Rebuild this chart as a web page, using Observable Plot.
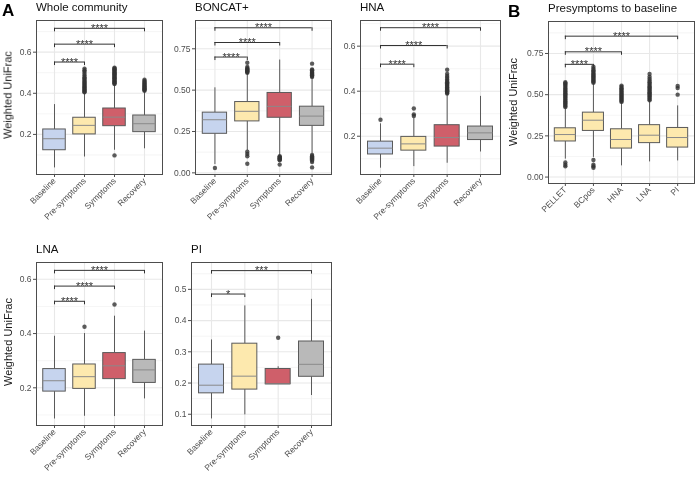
<!DOCTYPE html>
<html><head><meta charset="utf-8">
<script src="https://cdn.jsdelivr.net/npm/d3@7"></script>
<script src="https://cdn.jsdelivr.net/npm/@observablehq/plot@0.6"></script>
<style>
body{margin:0;background:#fff;}
#fig{position:relative;width:696px;height:478px;overflow:hidden;font-family:"Liberation Sans",Arial,Helvetica,sans-serif;background:#fff;-webkit-font-smoothing:antialiased;}
.panel{position:absolute;will-change:transform;}
.ptitle{position:absolute;font-size:11.5px;line-height:1;color:#111;white-space:nowrap;}
.tag{position:absolute;font-size:17px;line-height:1;font-weight:bold;color:#000;}
.ylab{position:absolute;font-size:11px;line-height:1;color:#1a1a1a;white-space:nowrap;transform:translate(-50%,-50%) rotate(-90deg);}
</style></head><body><div id="fig"></div>
<script>
// ---------- categories ----------
const timepoints = ["Baseline", "Pre-symptoms", "Symptoms", "Recovery"];
const cellGroups = ["PELLET", "BCpos", "HNA", "LNA", "PI"];
const timepointColors = ["#c6d4ee", "#fde9ae", "#cf5f6a", "#b9b9b9"];
const presymColors = ["#fde9ae", "#fde9ae", "#fde9ae", "#fde9ae", "#fde9ae"];
const panelTitles = ["Whole community", "BONCAT+", "HNA", "Presymptoms to baseline", "LNA", "PI"];
const panelTags = ["A", "B"];
const yTitle = "Weighted UniFrac";

// ---------- box statistics: [lower whisker, Q1, median, Q3, upper whisker] ----------
const wholeStats = [
  [0.037, 0.123, 0.179, 0.224, 0.345],
  [0.090, 0.200, 0.244, 0.281, 0.400],
  [0.123, 0.240, 0.284, 0.326, 0.440],
  [0.130, 0.211, 0.252, 0.292, 0.405]
];
const wholeOutliers = [
  [],
  [0.405,0.409,0.413,0.418,0.422,0.427,0.431,0.436,0.44,0.445,0.45,0.455,0.46,0.466,0.472,0.478,0.486,0.495,0.505,0.512,0.52],
  [0.098,0.445,0.449,0.453,0.457,0.461,0.465,0.469,0.473,0.477,0.481,0.485,0.489,0.493,0.497,0.501,0.505,0.509,0.513,0.517,0.521,0.525],
  [0.412,0.416,0.42,0.424,0.428,0.433,0.437,0.441,0.446,0.45,0.455,0.46,0.466]
];
const wholeBrackets = [[0, 1, 0.552, "****"], [0, 2, 0.639, "****"], [0, 3, 0.716, "****"]];

const boncatStats = [
  [0.050, 0.236, 0.321, 0.364, 0.514],
  [0.135, 0.311, 0.372, 0.428, 0.600],
  [0.105, 0.333, 0.402, 0.483, 0.682],
  [0.115, 0.284, 0.343, 0.400, 0.575]
];
const boncatOutliers = [
  [0.029],
  [0.605,0.61,0.614,0.618,0.622,0.627,0.632,0.64,0.666,0.128,0.114,0.1,0.055],
  [0.1,0.096,0.092,0.088,0.084,0.08,0.076,0.05],
  [0.58,0.585,0.59,0.595,0.6,0.605,0.61,0.615,0.62,0.625,0.66,0.108,0.1,0.094,0.088,0.082,0.075,0.065,0.033]
];
const boncatBrackets = [[0, 1, 0.700, "****"], [0, 2, 0.788, "****"], [0, 3, 0.877, "****"]];

const hnaStats = [
  [0.058, 0.119, 0.147, 0.176, 0.255],
  [0.065, 0.136, 0.166, 0.197, 0.280],
  [0.080, 0.154, 0.194, 0.249, 0.385],
  [0.130, 0.183, 0.215, 0.243, 0.377]
];
const hnaOutliers = [
  [0.273],
  [0.29, 0.297, 0.323],
  [0.39,0.393,0.397,0.4,0.404,0.408,0.412,0.416,0.42,0.425,0.43,0.435,0.44,0.445,0.452,0.46,0.468,0.477,0.495],
  []
];
const hnaBrackets = [[0, 1, 0.520, "****"], [0, 2, 0.603, "****"], [0, 3, 0.682, "****"]];

const presymStats = [
  [0.109, 0.216, 0.258, 0.296, 0.420],
  [0.119, 0.280, 0.345, 0.391, 0.567],
  [0.068, 0.173, 0.228, 0.290, 0.452],
  [0.092, 0.206, 0.254, 0.315, 0.462],
  [0.098, 0.179, 0.240, 0.298, 0.432]
];
const presymOutliers = [
  [0.425,0.432,0.439,0.446,0.453,0.46,0.467,0.474,0.481,0.488,0.495,0.502,0.509,0.516,0.523,0.53,0.538,0.546,0.554,0.562,0.569,0.575,0.088,0.075,0.065],
  [0.572,0.578,0.584,0.59,0.596,0.602,0.608,0.614,0.62,0.626,0.632,0.64,0.648,0.657,0.67,0.104,0.075,0.065,0.056],
  [0.456,0.462,0.468,0.474,0.48,0.486,0.492,0.498,0.504,0.51,0.517,0.524,0.531,0.539,0.547,0.555],
  [0.466,0.473,0.48,0.487,0.494,0.501,0.508,0.515,0.522,0.529,0.536,0.543,0.55,0.558,0.566,0.575,0.585,0.596,0.608,0.625],
  [0.5, 0.54, 0.553]
];
const presymBrackets = [[0, 1, 0.684, "****"], [0, 2, 0.760, "****"], [0, 4, 0.855, "****"]];

const lnaStats = [
  [0.085, 0.186, 0.226, 0.269, 0.390],
  [0.095, 0.196, 0.241, 0.286, 0.400],
  [0.094, 0.232, 0.281, 0.328, 0.464],
  [0.159, 0.218, 0.266, 0.303, 0.409]
];
const lnaOutliers = [[], [0.425], [0.507], []];
const lnaBrackets = [[0, 1, 0.519, "****"], [0, 2, 0.575, "****"], [0, 3, 0.633, "****"]];

const piStats = [
  [0.085, 0.167, 0.193, 0.259, 0.338],
  [0.098, 0.179, 0.222, 0.326, 0.447],
  [0.196, 0.196, 0.197, 0.245, 0.252],
  [0.160, 0.220, 0.260, 0.333, 0.468]
];
const piOutliers = [[], [], [0.345], []];
const piBrackets = [[0, 1, 0.485, "*"], [0, 3, 0.560, "***"]];

// ---------- y-axis ticks ----------
const ticksA = [0.2, 0.4, 0.6];
const minorA = [0.1, 0.3, 0.5, 0.7];
const ticksB = [0, 0.25, 0.5, 0.75];
const minorB = [0.125, 0.375, 0.625, 0.875];
const ticksPI = [0.1, 0.2, 0.3, 0.4, 0.5];
const minorPI = [0.15, 0.25, 0.35, 0.45, 0.55];

// ---------- layout ----------
const panels = [
  {title: panelTitles[0], cats: timepoints, colors: timepointColors, stats: wholeStats, outliers: wholeOutliers, brackets: wholeBrackets,
   left: 0, top: 0, w: 175, h: 240, ml: 36, mr: 13, mt: 20, mb: 66, domain: [0.005, 0.754], major: ticksA, minor: minorA, fmt: ".1f", ylab: [7.5, 95]},
  {title: panelTitles[1], cats: timepoints, colors: timepointColors, stats: boncatStats, outliers: boncatOutliers, brackets: boncatBrackets,
   left: 165, top: 0, w: 175, h: 240, ml: 30, mr: 9, mt: 20, mb: 66, domain: [-0.01, 0.921], major: ticksB, minor: minorB, fmt: ".2f"},
  {title: panelTitles[2], cats: timepoints, colors: timepointColors, stats: hnaStats, outliers: hnaOutliers, brackets: hnaBrackets,
   left: 335, top: 0, w: 175, h: 240, ml: 25, mr: 10, mt: 20, mb: 66, domain: [0.03, 0.714], major: ticksA, minor: minorA, fmt: ".1f"},
  {title: panelTitles[3], cats: cellGroups, colors: presymColors, stats: presymStats, outliers: presymOutliers, brackets: presymBrackets,
   left: 510, top: 0, w: 186, h: 240, ml: 38, mr: 2, mt: 21, mb: 57, domain: [-0.039, 0.944], major: ticksB, minor: minorB, fmt: ".2f", ylab: [513, 102]},
  {title: panelTitles[4], cats: timepoints, colors: timepointColors, stats: lnaStats, outliers: lnaOutliers, brackets: lnaBrackets,
   left: 0, top: 240, w: 175, h: 238, ml: 36, mr: 13, mt: 22, mb: 53, domain: [0.061, 0.662], major: ticksA, minor: [0.1, 0.3, 0.5], fmt: ".1f", ylab: [7.5, 342]},
  {title: panelTitles[5], cats: timepoints, colors: timepointColors, stats: piStats, outliers: piOutliers, brackets: piBrackets,
   left: 165, top: 240, w: 175, h: 238, ml: 26, mr: 9, mt: 22, mb: 53, domain: [0.064, 0.586], major: ticksPI, minor: minorPI, fmt: ".1f"}
];

const fig = document.getElementById("fig");
const HW = 0.375; // half box width in band units

function drawPanel(p) {
  const n = p.cats.length;
  const idx = d3.range(n);
  const boxes = p.stats.map((s, i) => ({i, lo: s[0], q1: s[1], med: s[2], q3: s[3], hi: s[4], fill: p.colors[i]}));
  const outs = p.outliers.flatMap((arr, i) => arr.map(v => ({i, v})));
  const br = p.brackets.map(([a, b, y, lab]) => ({a, b, y, lab}));
  const innerH = p.h - p.mt - p.mb;
  const tip = 3.5 * (p.domain[1] - p.domain[0]) / innerH;
  const stubs = br.flatMap(d => [{x: d.a, y: d.y}, {x: d.b, y: d.y}]);
  const fmt = d3.format(p.fmt);
  const chart = Plot.plot({
    width: p.w, height: p.h,
    marginLeft: p.ml, marginRight: p.mr, marginTop: p.mt, marginBottom: p.mb,
    style: {background: "transparent", overflow: "visible", fontFamily: "Liberation Sans, Arial, sans-serif", fontSize: "8.5px", color: "#4d4d4d"},
    x: {domain: [-0.6, n - 1 + 0.6], ticks: idx, tickFormat: i => p.cats[i], tickRotate: -45, tickSize: 3, tickPadding: 2, label: null},
    y: {domain: p.domain, ticks: p.major, tickFormat: fmt, tickSize: 3, tickPadding: 2, label: null},
    marks: [
      Plot.ruleY(p.minor, {stroke: "#efefef", strokeWidth: 0.6}),
      Plot.ruleY(p.major, {stroke: "#e8e8e8", strokeWidth: 1.1}),
      Plot.ruleX(idx, {stroke: "#e8e8e8", strokeWidth: 1.1}),
      Plot.ruleX(boxes, {x: "i", y1: "lo", y2: "q1", stroke: "#5a5a5a", strokeWidth: 1}),
      Plot.ruleX(boxes, {x: "i", y1: "q3", y2: "hi", stroke: "#5a5a5a", strokeWidth: 1}),
      Plot.rect(boxes, {x1: d => d.i - HW, x2: d => d.i + HW, y1: "q1", y2: "q3", fill: d => d.fill, stroke: "#5a5a5a", strokeWidth: 1}),
      Plot.ruleY(boxes, {x1: d => d.i - HW, x2: d => d.i + HW, y: "med", stroke: "#8a8a8a", strokeWidth: 1}),
      Plot.dot(outs, {x: "i", y: "v", r: 2.2, fill: "#333", fillOpacity: 0.8, stroke: "none"}),
      Plot.ruleY(br, {x1: "a", x2: "b", y: "y", stroke: "#333", strokeWidth: 1}),
      Plot.ruleX(stubs, {x: "x", y1: "y", y2: d => d.y - tip, stroke: "#333", strokeWidth: 1}),
      Plot.text(br, {x: d => (d.a + d.b) / 2, y: "y", text: "lab", fontSize: 11, fill: "#333"}),
      Plot.frame({stroke: "#4d4d4d", strokeWidth: 1})
    ]
  });
  const wrap = document.createElement("div");
  wrap.className = "panel";
  wrap.style.left = p.left + "px";
  wrap.style.top = p.top + "px";
  wrap.appendChild(chart);
  fig.appendChild(wrap);

  const t = document.createElement("div");
  t.className = "ptitle";
  t.textContent = p.title;
  t.style.left = (p.left + p.ml) + "px";
  t.style.top = (p.top + p.mt - 18) + "px";
  fig.appendChild(t);

  if (p.ylab) {
    const yl = document.createElement("div");
    yl.className = "ylab";
    yl.textContent = yTitle;
    yl.style.left = p.ylab[0] + "px";
    yl.style.top = p.ylab[1] + "px";
    fig.appendChild(yl);
  }
}
panels.forEach(drawPanel);

const tagPos = [[2, 2], [508, 3]];
panelTags.forEach((tg, k) => {
  const d = document.createElement("div");
  d.className = "tag";
  d.textContent = tg;
  d.style.left = tagPos[k][0] + "px";
  d.style.top = tagPos[k][1] + "px";
  fig.appendChild(d);
});
</script></body></html>
